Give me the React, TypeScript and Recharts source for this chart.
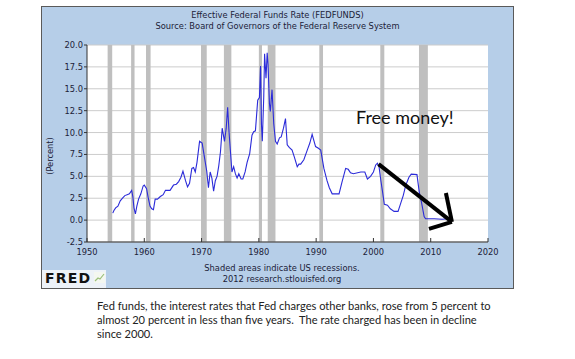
import React from "react";
import {
  LineChart,
  Line,
  XAxis,
  YAxis,
  CartesianGrid,
  ReferenceArea,
  ReferenceLine,
} from "recharts";

// Effective Federal Funds Rate (percent)
const years = [
  1954.5, 1954.7, 1955.0, 1955.4, 1955.8, 1956.2, 1956.6, 1957.0, 1957.4, 1957.8,
  1958.0, 1958.2, 1958.45, 1958.7, 1959.0, 1959.4, 1959.8, 1960.0, 1960.4, 1960.7,
  1961.0, 1961.3, 1961.6, 1961.9, 1962.3, 1962.8, 1963.3, 1963.7, 1964.5, 1965.1,
  1965.6, 1966.0, 1966.4, 1966.75, 1967.2, 1967.55, 1967.9, 1968.3, 1968.6, 1968.9,
  1969.2, 1969.65, 1970.1, 1970.5, 1970.9, 1971.2, 1971.5, 1971.8, 1972.1, 1972.4,
  1972.7, 1973.0, 1973.3, 1973.6, 1974.0, 1974.3, 1974.55, 1974.8, 1975.0, 1975.3,
  1975.6, 1975.9, 1976.2, 1976.5, 1976.9, 1977.2, 1977.6, 1977.95, 1978.4, 1978.8,
  1979.1, 1979.4, 1979.8, 1980.1, 1980.3, 1980.45, 1980.6, 1980.85, 1981.0, 1981.25,
  1981.45, 1981.6, 1981.85, 1982.0, 1982.3, 1982.6, 1982.9, 1983.2, 1983.6, 1983.9,
  1984.3, 1984.65, 1984.95, 1985.3, 1985.8, 1986.2, 1986.7, 1987.0, 1987.3, 1987.85,
  1988.45, 1988.9, 1989.3, 1989.9, 1990.4, 1990.8, 1991.35, 1991.9, 1992.3, 1992.8,
  1994.0, 1994.5, 1995.15, 1995.6, 1996.0, 1996.5, 1997.8, 1998.5, 1998.95, 1999.5,
  2000.0, 2000.4, 2000.7, 2001.0, 2001.3, 2001.6, 2001.9, 2002.45, 2002.95, 2003.6,
  2004.3, 2004.8, 2005.2, 2005.65, 2006.2, 2006.6, 2007.6, 2008.0, 2008.4, 2008.85,
  2009.1, 2010.6, 2012.0, 2012.95,
];
const rates = [
  0.8, 1.1, 1.4, 1.6, 2.2, 2.5, 2.8, 2.9, 3.0, 3.4,
  2.7, 1.4, 0.7, 1.6, 2.4, 3.0, 3.9, 4.0, 3.6, 2.5,
  1.6, 1.3, 1.2, 2.4, 2.4, 2.7, 2.9, 3.4, 3.4, 4.0,
  4.1, 4.4, 4.9, 5.6, 4.5, 3.8, 4.2, 5.9, 6.0, 5.5,
  6.6, 9.0, 8.8, 7.2, 5.6, 3.7, 5.5, 4.8, 3.3, 4.5,
  5.0, 6.2, 7.8, 10.5, 9.0, 10.5, 12.9, 10.0, 8.2, 5.5,
  6.1, 5.3, 4.8, 5.3, 4.7, 4.7, 5.5, 6.6, 7.6, 9.7,
  10.1, 10.2, 13.7, 14.0, 17.6, 11.0, 9.0, 14.0, 19.0, 16.2,
  19.1, 17.8, 13.3, 12.4, 14.9, 11.0, 9.0, 8.7, 9.4, 9.5,
  10.5, 11.6, 8.6, 8.3, 8.0, 7.2, 6.1, 6.4, 6.4, 6.9,
  8.0, 8.8, 9.8, 8.4, 8.2, 8.0, 5.9, 4.5, 3.7, 3.0,
  3.0, 4.3, 5.9, 5.8, 5.4, 5.3, 5.5, 5.5, 4.7, 5.0,
  5.5, 6.3, 6.5, 6.0, 4.5, 3.2, 1.8, 1.7, 1.3, 1.0,
  1.0, 2.0, 2.8, 4.0, 4.9, 5.25, 5.2, 3.2, 2.0, 0.4,
  0.15, 0.15, 0.1, 0.15,
];

// US recessions (shaded)
const recessionStarts = [1953.6, 1957.7, 1960.3, 1969.9, 1973.9, 1980.0, 1981.55, 1990.55, 2001.2, 2007.95];
const recessionEnds = [1954.4, 1958.3, 1961.1, 1970.9, 1975.2, 1980.55, 1982.9, 1991.2, 2001.9, 2009.5];

const xTicks = [1950, 1960, 1970, 1980, 1990, 2000, 2010, 2020];
const yTicks = [-2.5, 0, 2.5, 5, 7.5, 10, 12.5, 15, 17.5, 20];

// hand-drawn "free money" arrow, in data units (year, percent)
const arrowTail = { x: 2000.9, y: 6.4 };
const arrowTip = { x: 2013.7, y: -0.2 };
const arrowBarbUp = { x: 2012.65, y: 3.1 };
const arrowBarbDown = { x: 2009.7, y: -1.0 };

const data = years.map((year, i) => ({ year, rate: rates[i] }));

const fredFont = "'DejaVu Sans', Verdana, sans-serif";
const textColor = "#1c2238";

export default function App() {
  const tick = { fontSize: 8.3, fill: textColor, fontFamily: fredFont };
  return (
    <div
      style={{
        position: "absolute",
        left: 0,
        top: 0,
        width: 575,
        height: 359,
        background: "#fff",
        overflow: "hidden",
      }}
    >
      {/* FRED blue panel */}
      <div
        style={{
          position: "absolute",
          left: 41,
          top: 6,
          width: 471,
          height: 281,
          background: "#b6cee8",
          border: "1px solid #5a5a5a",
        }}
      />
      <div
        style={{
          position: "absolute",
          left: 42,
          top: 270,
          width: 64,
          height: 18,
          background: "#edf2f8",
        }}
      />

      <div style={{ position: "absolute", left: 0, top: 0 }}>
        <LineChart
          width={575}
          height={359}
          data={data}
          margin={{ top: 45, right: 87, bottom: 97, left: 0 }}
        >
          <CartesianGrid
            vertical={false}
            stroke="#cccccc"
            fill="#ffffff"
            fillOpacity={1}
          />
          {recessionStarts.map((s, i) => (
            <ReferenceArea
              key={s}
              x1={s}
              x2={recessionEnds[i]}
              y1={-2.5}
              y2={20}
              fill="#bfbfbf"
              fillOpacity={1}
              stroke="none"
            />
          ))}
          <XAxis
            type="number"
            dataKey="year"
            domain={[1950, 2020]}
            ticks={xTicks}
            interval={0}
            allowDataOverflow
            height={20}
            tickSize={-4}
            tickMargin={11}
            tick={tick}
            axisLine={{ stroke: "#333" }}
            tickLine={{ stroke: "#333" }}
          />
          <YAxis
            type="number"
            domain={[-2.5, 20]}
            ticks={yTicks}
            interval={0}
            allowDataOverflow
            width={87}
            tickSize={3}
            tickMargin={1}
            tick={tick}
            tickFormatter={(v: number) => v.toFixed(1)}
            axisLine={{ stroke: "#333" }}
            tickLine={{ stroke: "#333" }}
          />
          <Line
            type="linear"
            dataKey="rate"
            stroke="#2b2bd9"
            strokeWidth={1.1}
            dot={false}
            isAnimationActive={false}
          />
          <ReferenceLine
            segment={[arrowTail, arrowTip]}
            stroke="#000"
            strokeWidth={4}
            ifOverflow="visible"
          />
          <ReferenceLine
            segment={[arrowBarbUp, arrowTip]}
            stroke="#000"
            strokeWidth={4}
            ifOverflow="visible"
          />
          <ReferenceLine
            segment={[arrowBarbDown, arrowTip]}
            stroke="#000"
            strokeWidth={4}
            ifOverflow="visible"
          />
        </LineChart>
      </div>

      {/* titles */}
      <div
        style={{
          position: "absolute",
          left: 41,
          width: 473,
          top: 10,
          textAlign: "center",
          fontFamily: fredFont,
          fontSize: 8.3,
          lineHeight: "10.5px",
          color: textColor,
        }}
      >
        <div>Effective Federal Funds Rate (FEDFUNDS)</div>
        <div>Source: Board of Governors of the Federal Reserve System</div>
      </div>

      <div
        style={{
          position: "absolute",
          left: 50,
          top: 156,
          transform: "translate(-50%, -50%) rotate(-90deg)",
          fontFamily: fredFont,
          fontSize: 8.3,
          color: textColor,
          whiteSpace: "nowrap",
        }}
      >
        (Percent)
      </div>

      <div
        style={{
          position: "absolute",
          left: 182,
          width: 200,
          top: 263,
          textAlign: "center",
          fontFamily: fredFont,
          fontSize: 8.3,
          lineHeight: "10.5px",
          color: textColor,
        }}
      >
        <div>Shaded areas indicate US recessions.</div>
        <div>2012 research.stlouisfed.org</div>
      </div>

      {/* FRED logo */}
      <div
        style={{
          position: "absolute",
          left: 45,
          top: 270,
          fontFamily: fredFont,
          fontWeight: 900,
          fontSize: 14,
          letterSpacing: 1.2,
          color: "#111",
          lineHeight: "16px",
        }}
      >
        FRED
      </div>
      <svg
        style={{ position: "absolute", left: 94, top: 272 }}
        width={11}
        height={11}
      >
        <rect x={0} y={0} width={11} height={11} fill="#f4f7f0" />
        <polyline
          points="1,9 4,6 6,7 10,2"
          fill="none"
          stroke="#9bbf7a"
          strokeWidth={1.2}
        />
      </svg>

      {/* annotation */}
      <div
        style={{
          position: "absolute",
          left: 356,
          top: 106,
          fontFamily: "Lato, 'Open Sans', sans-serif",
          fontSize: 18,
          color: "#111",
          whiteSpace: "nowrap",
        }}
      >
        Free money!
      </div>

      {/* caption */}
      <div
        style={{
          position: "absolute",
          left: 97,
          top: 299,
          fontFamily: "Lato, 'Open Sans', sans-serif",
          fontSize: 11.1,
          lineHeight: "14px",
          color: "#222",
          whiteSpace: "nowrap",
        }}
      >
        <div>
          Fed funds, the interest rates that Fed charges other banks, rose from 5 percent to
        </div>
        <div>
          almost 20 percent in less than five years.&nbsp; The rate charged has been in decline
        </div>
        <div>since 2000.</div>
      </div>
    </div>
  );
}
